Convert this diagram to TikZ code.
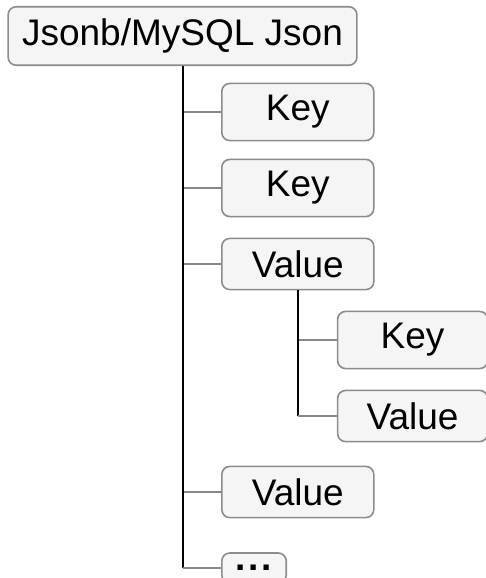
\documentclass[tikz,border=0pt]{standalone}
\usepackage{fontspec}
\setmainfont{Liberation Sans}
\usetikzlibrary{trees}
\definecolor{boxfill}{HTML}{F5F5F5}
\definecolor{boxline}{HTML}{8C8C8C}
\definecolor{branch}{HTML}{888888}
\begin{document}
\begin{tikzpicture}[
        x                       = 1pt,
        y                       = 1pt,
        level 1/.style          = {grow via three points={one child at (19.25,-38) and two children at (19.25,-38) and (19.25,-76)}},
        level 2/.style          = {grow via three points={one child at (19.5,-38) and two children at (19.5,-38) and (19.5,-76)}},
        every child node/.style = {anchor=west},
        edge from parent/.style = {draw, black, line width=1pt, edge from parent path={(\tikzparentnode.south) -- (\tikzparentnode.south |- \tikzchildnode.west) edge[branch, line width=0.8pt] (\tikzchildnode.west)}},
        box/.style              = {draw=boxline, fill=boxfill, line width=0.8pt, rounded corners=4pt, minimum width=76pt, inner xsep=7pt, inner ysep=6pt, font=\fontsize{18.5}{22}\selectfont},
        %sloped
      ]
        \useasboundingbox (0,0) rectangle (243,-289);
        \node[box, minimum width=173.5pt] at (91.25,-18) {Jsonb/MySQL Json}
                    child{ node[box] {Key} }
                    child{ node[box] {Key} }
                    child{
                        node[box] {Value}
                        child{ node[box, minimum width=75pt] {Key} }
                        child{ node[box, minimum width=75pt] {Value} }
                    }
                    child[missing] {}
                    child[missing] {}
                    child{ node[box] {Value} }
                    child{ node[box, minimum width=28.5pt, minimum height=15pt, inner ysep=0pt] {\textbf{.\hspace{1.4pt}.\hspace{1.4pt}.}} };
    \end{tikzpicture}
\end{document}
